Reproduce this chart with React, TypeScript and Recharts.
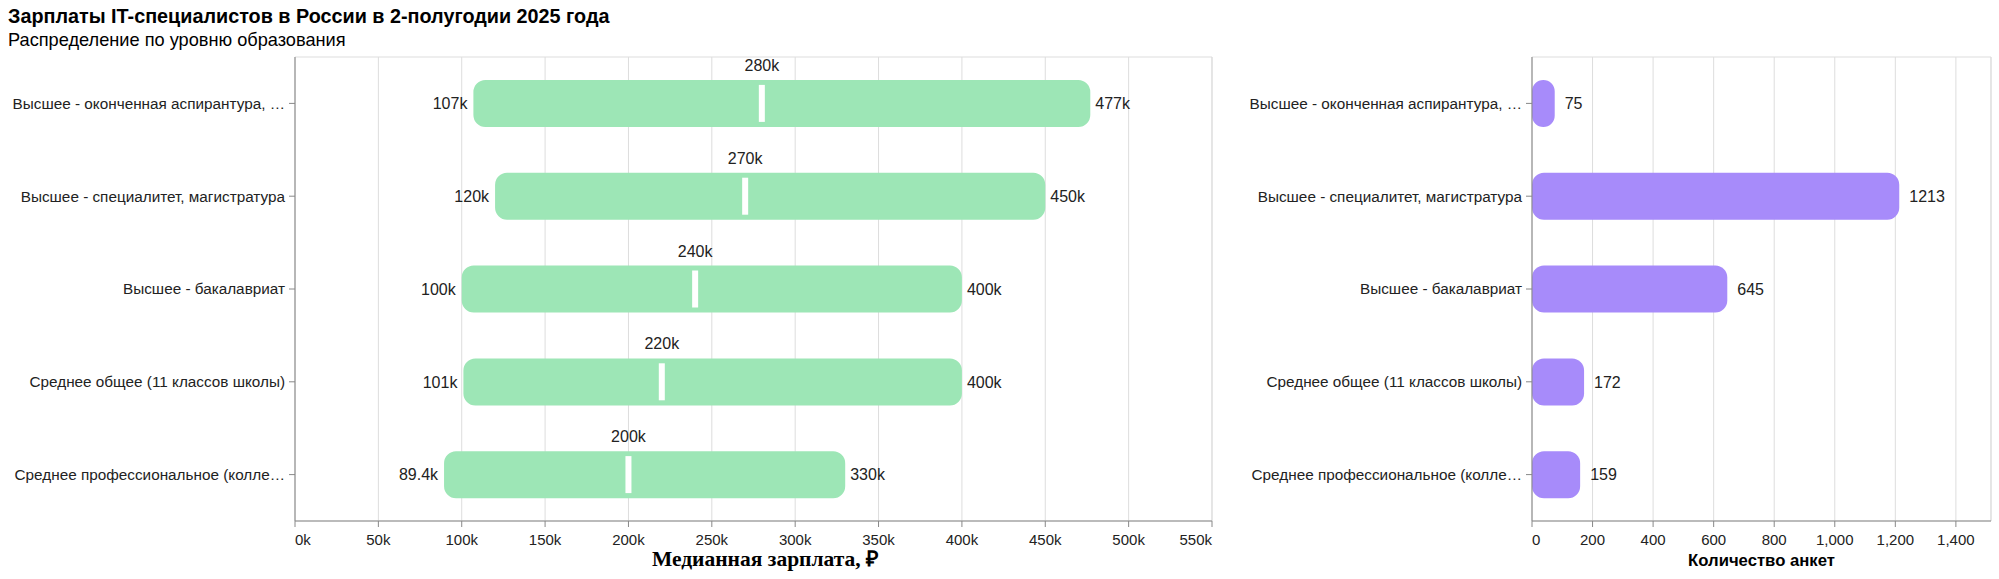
import React from 'react';
import {
  ComposedChart,
  BarChart,
  Bar,
  XAxis,
  YAxis,
  CartesianGrid,
  LabelList,
  ReferenceDot,
  ReferenceArea,
  Label,
} from 'recharts';

const categories = [
  'Высшее - оконченная аспирантура, …',
  'Высшее - специалитет, магистратура',
  'Высшее - бакалавриат',
  'Среднее общее (11 классов школы)',
  'Среднее профессиональное (колле…',
];
const salaryMin = [107000, 120000, 100000, 101000, 89400];
const salaryMedian = [280000, 270000, 240000, 220000, 200000];
const salaryMax = [477000, 450000, 400000, 400000, 330000];
const responseCounts = [75, 1213, 645, 172, 159];
const salaryTicks = [0, 50000, 100000, 150000, 200000, 250000, 300000, 350000, 400000, 450000, 500000, 550000];
const countTicks = [0, 200, 400, 600, 800, 1000, 1200, 1400];
const salaryDomainMax = 550000;
const countDomainMax = 1516;

const salaryData = categories.map((c, i) => ({
  category: c,
  min: salaryMin[i],
  median: salaryMedian[i],
  max: salaryMax[i],
  range: [salaryMin[i], salaryMax[i]],
}));
const countData = categories.map((c, i) => ({ category: c, count: responseCounts[i] }));

const FONT = '"Liberation Sans", Arial, sans-serif';
const TEXT = '#222';
const GREEN = '#9de6b6';
const PURPLE = '#a78bfa';

const fmtK = (v: number) => `${Math.round(v / 100) / 10}k`;
const fmtCount = (v: number) => v.toLocaleString('en-US');

const FlushTick = (props: any) => {
  const { x, y, payload, fmt, domainMax } = props;
  const v = payload.value;
  const anchor = v === 0 ? 'start' : v === domainMax ? 'end' : 'middle';
  return (
    <text x={x} y={y} dy="0.71em" textAnchor={anchor} fontSize={15} fontFamily={FONT} fill={TEXT}>
      {fmt(v)}
    </text>
  );
};

const CatTick = (props: any) => {
  const { x, y, payload } = props;
  return (
    <text x={x} y={y} dy="0.355em" textAnchor="end" fontSize={15.3} fontFamily={FONT} fill={TEXT}>
      {payload.value}
    </text>
  );
};

export default function App() {
  return (
    <div style={{ position: 'absolute', left: 0, top: 0, width: 1999, height: 579, background: '#fff', fontFamily: FONT }}>
      <div style={{ position: 'absolute', left: 8, top: 5, fontSize: 19.8, fontWeight: 'bold', color: '#000', whiteSpace: 'nowrap', lineHeight: '22px' }}>
        Зарплаты IT-специалистов в России в 2-полугодии 2025 года
      </div>
      <div style={{ position: 'absolute', left: 8, top: 29, fontSize: 18.2, color: '#000', whiteSpace: 'nowrap', lineHeight: '22px' }}>
        Распределение по уровню образования
      </div>

      <div style={{ position: 'absolute', left: 0, top: 0 }}>
        <ComposedChart
          layout="vertical"
          width={1230}
          height={579}
          data={salaryData}
          margin={{ top: 57, right: 18, bottom: 8, left: 0 }}
          barCategoryGap={0}
        >
          <CartesianGrid horizontal={false} stroke="#ddd" />
          <ReferenceArea x1={0} x2={salaryDomainMax} fill="none" stroke="#ddd" ifOverflow="visible" />
          <XAxis
            type="number"
            domain={[0, salaryDomainMax]}
            ticks={salaryTicks}
            interval={0}
            height={50}
            tickSize={6}
            tickMargin={7}
            axisLine={{ stroke: '#888' }}
            tickLine={{ stroke: '#888' }}
            tick={<FlushTick fmt={fmtK} domainMax={salaryDomainMax} />}
          >
            <Label
              value="Медианная зарплата, ₽"
              position="insideBottom"
              offset={5}
              dx={12}
              style={{ fontFamily: '"Liberation Serif", serif', fontWeight: 'bold', fontSize: 21.5, fill: '#000' }}
            />
          </XAxis>
          <YAxis
            type="category"
            dataKey="category"
            width={295}
            tickSize={6}
            tickMargin={4}
            interval={0}
            axisLine={{ stroke: '#888' }}
            tickLine={{ stroke: '#888' }}
            tick={<CatTick />}
          />
          <Bar dataKey="range" fill={GREEN} radius={12} barSize={47} isAnimationActive={false}>
            <LabelList dataKey="min" position="left" offset={6} formatter={fmtK} style={{ fontSize: 16, fontFamily: FONT, fill: TEXT }} />
            <LabelList dataKey="max" position="right" offset={5} formatter={fmtK} style={{ fontSize: 16, fontFamily: FONT, fill: TEXT }} />
          </Bar>
          {salaryData.map((d) => (
            <ReferenceDot
              key={d.category}
              x={d.median}
              y={d.category}
              r={3}
              ifOverflow="visible"
              shape={(p: any) => (
                <g>
                  <rect x={p.cx - 3} y={p.cy - 18.5} width={6} height={37} fill="#fff" />
                  <text x={p.cx} y={p.cy - 38} dy="0.355em" textAnchor="middle" fontSize={16} fontFamily={FONT} fill={TEXT}>
                    {fmtK(d.median)}
                  </text>
                </g>
              )}
            />
          ))}
        </ComposedChart>
      </div>

      <div style={{ position: 'absolute', left: 1230, top: 0 }}>
        <BarChart
          layout="vertical"
          width={769}
          height={579}
          data={countData}
          margin={{ top: 57, right: 8, bottom: 8, left: 0 }}
          barCategoryGap={0}
        >
          <CartesianGrid horizontal={false} stroke="#ddd" />
          <ReferenceArea x1={0} x2={countDomainMax} fill="none" stroke="#ddd" ifOverflow="visible" />
          <XAxis
            type="number"
            domain={[0, countDomainMax]}
            ticks={countTicks}
            interval={0}
            height={50}
            tickSize={6}
            tickMargin={7}
            axisLine={{ stroke: '#888' }}
            tickLine={{ stroke: '#888' }}
            tick={<FlushTick fmt={fmtCount} domainMax={countDomainMax} />}
          >
            <Label
              value="Количество анкет"
              position="insideBottom"
              offset={5}
              style={{ fontFamily: FONT, fontWeight: 'bold', fontSize: 16.7, fill: '#000' }}
            />
          </XAxis>
          <YAxis
            type="category"
            dataKey="category"
            width={302}
            tickSize={6}
            tickMargin={4}
            interval={0}
            axisLine={{ stroke: '#888' }}
            tickLine={{ stroke: '#888' }}
            tick={<CatTick />}
          />
          <Bar dataKey="count" fill={PURPLE} radius={12} barSize={47} isAnimationActive={false}>
            <LabelList dataKey="count" position="right" offset={10} style={{ fontSize: 16, fontFamily: FONT, fill: TEXT }} />
          </Bar>
        </BarChart>
      </div>
    </div>
  );
}
